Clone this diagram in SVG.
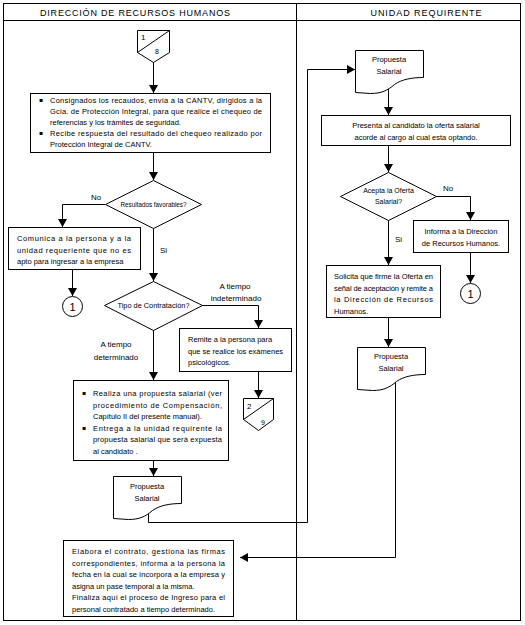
<svg xmlns="http://www.w3.org/2000/svg" xmlns:xlink="http://www.w3.org/1999/xlink" width="525" height="625" viewBox="0 0 525 625">
<style>
.frame{fill:none;stroke:#000;stroke-width:1}
.box{fill:#fff;stroke:#000;stroke-width:1}
.conn{fill:none;stroke:#000;stroke-width:1}
.t{font-family:"Liberation Sans",Arial,sans-serif;font-size:7.5px;fill:#000}
.c{text-anchor:middle}
.h{font-family:"Liberation Sans",Arial,sans-serif;font-size:9px;fill:#000}
.b{font-family:"DejaVu Sans","Liberation Sans",sans-serif;font-size:6px;fill:#000}
</style>
<defs>
<marker id="ah" markerUnits="userSpaceOnUse" markerWidth="9" markerHeight="9" refX="8" refY="4.5" orient="auto">
<path d="M0,0 L8,4.5 L0,9 z" fill="#000"/>
</marker>
<path id="docShape" d="M0,0 H68 V27 C56,27 46,29 39,34 C32,40 26,43 15,43 L0,42 Z"/>
</defs>
<rect width="525" height="625" fill="#fff"/>
<g id="frame">
<rect class="frame" x="3.5" y="3.5" width="517" height="617"/>
<line class="frame" x1="3.5" y1="20.5" x2="520.5" y2="20.5"/>
<line class="frame" x1="296.5" y1="3.5" x2="296.5" y2="620.5"/>
<text class="h c" x="135" y="16" textLength="190" lengthAdjust="spacing">DIRECCIÓN DE RECURSOS HUMANOS</text>
<text class="h c" x="426" y="16" textLength="111" lengthAdjust="spacing">UNIDAD REQUIRENTE</text>
</g>
<g id="connectors">
<path class="conn" d="M153.5,62 V93" marker-end="url(#ah)"/>
<path class="conn" d="M153.5,152 V180" marker-end="url(#ah)"/>
<path class="conn" d="M105,204.5 H62.5 V227" marker-end="url(#ah)"/>
<path class="conn" d="M72.5,269 V296" marker-end="url(#ah)"/>
<path class="conn" d="M153.5,228 V281" marker-end="url(#ah)"/>
<path class="conn" d="M202,305.5 H258.5 V328" marker-end="url(#ah)"/>
<path class="conn" d="M258.5,371 V398" marker-end="url(#ah)"/>
<path class="conn" d="M153.5,330 V380" marker-end="url(#ah)"/>
<path class="conn" d="M153.5,460 V476" marker-end="url(#ah)"/>
<path class="conn" d="M148.5,505 V522.5 H307.5 V69.5 H355" marker-end="url(#ah)"/>
<path class="conn" d="M388.5,80 V115" marker-end="url(#ah)"/>
<path class="conn" d="M388.5,145 V172" marker-end="url(#ah)"/>
<path class="conn" d="M436,196.5 H470.5 V220" marker-end="url(#ah)"/>
<path class="conn" d="M470.5,252 V283" marker-end="url(#ah)"/>
<path class="conn" d="M388.5,220 V265" marker-end="url(#ah)"/>
<path class="conn" d="M388.5,317 V347" marker-end="url(#ah)"/>
<path class="conn" d="M395.5,375 V557.5 H240" marker-end="url(#ah)"/>
</g>
<g id="labels">
<text class="t c" x="96" y="200" style="font-size:8px">No</text>
<text class="t" x="160" y="253" style="font-size:8px">Si</text>
<text class="t c" x="235" y="289" style="font-size:8px">A tiempo</text>
<text class="t c" x="236" y="301" style="font-size:8px">indeterminado</text>
<text class="t c" x="116" y="347" style="font-size:8px">A tiempo</text>
<text class="t c" x="116" y="360" style="font-size:8px">determinado</text>
<text class="t c" x="448" y="191" style="font-size:8px">No</text>
<text class="t" x="395" y="242" style="font-size:8px">Si</text>
</g>
<g id="offpage-1-8">
<path class="box" d="M137.5,30.5 H169.5 V52.5 L153.5,62.5 L137.5,52.5 Z"/>
<line class="conn" x1="137.5" y1="52.5" x2="169.5" y2="30.5"/>
<text class="t" x="141" y="40" style="font-size:8px">1</text>
<text class="t" x="155" y="54" style="font-size:7px">8</text>
</g>
<g id="box-consignados">
<rect class="box" x="30.5" y="93.5" width="240" height="59"/>
<text class="b" x="39" y="102">▪</text>
<text class="t" x="50" y="103" textLength="212" lengthAdjust="spacing">Consignados los recaudos, envía a la CANTV, dirigidos a la</text>
<text class="t" x="50" y="114" textLength="212" lengthAdjust="spacing">Gcia. de Protección Integral, para que realice el chequeo de</text>
<text class="t" x="50" y="125">referencias y los trámites de seguridad.</text>
<text class="b" x="39" y="135">▪</text>
<text class="t" x="50" y="136" textLength="212" lengthAdjust="spacing">Recibe respuesta del resultado del chequeo realizado por</text>
<text class="t" x="50" y="147">Protección Integral de CANTV.</text>
</g>
<g id="dec-resultados">
<path class="box" d="M153.5,180.5 L201.5,204.5 L153.5,228.5 L105.5,204.5 Z"/>
<text class="t c" x="153.5" y="207" style="font-size:7px" textLength="66" lengthAdjust="spacingAndGlyphs">Resultados favorables?</text>
</g>
<g id="box-comunica">
<rect class="box" x="8.5" y="227.5" width="132" height="42"/>
<text class="t" x="17" y="241" textLength="114" lengthAdjust="spacing">Comunica a la persona y a la</text>
<text class="t" x="17" y="252.5" textLength="114" lengthAdjust="spacing">unidad requeriente que no es</text>
<text class="t" x="17" y="264">apto para ingresar a la empresa</text>
</g>
<g id="conn-1-left">
<circle class="box" cx="72.5" cy="306.5" r="10"/>
<text class="t c" x="72.5" y="310.5" style="font-size:11px">1</text>
</g>
<g id="dec-tipo">
<path class="box" d="M153.5,281.5 L202.5,305.5 L153.5,330.5 L104.5,305.5 Z"/>
<text class="t c" x="153.5" y="308" textLength="72" lengthAdjust="spacingAndGlyphs">Tipo de Contratación?</text>
</g>
<g id="box-remite">
<rect class="box" x="179.5" y="328.5" width="112" height="43"/>
<text class="t" x="188" y="342">Remite a la persona para</text>
<text class="t" x="188" y="353.5">que se realice los exámenes</text>
<text class="t" x="188" y="365">psicológicos.</text>
</g>
<g id="offpage-2-9">
<path class="box" d="M243.5,398.5 H273.5 V419.5 L258.5,430.5 L243.5,419.5 Z"/>
<line class="conn" x1="243.5" y1="419.5" x2="273.5" y2="398.5"/>
<text class="t" x="247" y="409" style="font-size:8px">2</text>
<text class="t" x="261" y="425" style="font-size:7px">9</text>
</g>
<g id="box-realiza">
<rect class="box" x="73.5" y="380.5" width="155" height="80"/>
<text class="b" x="82" y="395">▪</text>
<text class="t" x="93" y="396" textLength="129" lengthAdjust="spacing">Realiza una propuesta salarial (ver</text>
<text class="t" x="93" y="407.5" textLength="129" lengthAdjust="spacing">procedimiento de Compensación,</text>
<text class="t" x="93" y="419">Capítulo II del presente manual).</text>
<text class="b" x="82" y="429.5">▪</text>
<text class="t" x="93" y="430.5" textLength="129" lengthAdjust="spacing">Entrega a la unidad requirente la</text>
<text class="t" x="93" y="442" textLength="129" lengthAdjust="spacing">propuesta salarial que será expuesta</text>
<text class="t" x="93" y="453.5">al candidato .</text>
</g>
<g id="doc-left">
<use xlink:href="#docShape" href="#docShape" class="box" x="113.5" y="476.5"/>
<text class="t c" x="147" y="489">Propuesta</text>
<text class="t c" x="147" y="501">Salarial</text>
</g>
<g id="box-elabora">
<rect class="box" x="63.5" y="540.5" width="170" height="76"/>
<text class="t" x="72" y="554" textLength="153" lengthAdjust="spacing">Elabora el contrato, gestiona las firmas</text>
<text class="t" x="72" y="565.5" textLength="153" lengthAdjust="spacing">correspondientes, informa a la persona la</text>
<text class="t" x="72" y="577" textLength="153" lengthAdjust="spacing">fecha en la cual se incorpora a la empresa y</text>
<text class="t" x="72" y="588.5">asigna un pase temporal a la misma.</text>
<text class="t" x="72" y="600" textLength="153" lengthAdjust="spacing">Finaliza aquí el proceso de Ingreso para el</text>
<text class="t" x="72" y="611.5">personal contratado a tiempo determinado.</text>
</g>
<g id="doc-right-1">
<use xlink:href="#docShape" href="#docShape" class="box" x="355.5" y="50.5"/>
<text class="t c" x="389" y="62">Propuesta</text>
<text class="t c" x="389" y="74">Salarial</text>
</g>
<g id="box-presenta">
<rect class="box" x="321.5" y="115.5" width="189" height="30"/>
<text class="t c" x="416" y="128">Presenta al candidato la oferta salarial</text>
<text class="t c" x="416" y="140">acorde al cargo al cual esta optando.</text>
</g>
<g id="dec-acepta">
<path class="box" d="M388.5,172.5 L436.5,196.5 L388.5,220.5 L340.5,196.5 Z"/>
<text class="t c" x="388.5" y="193" style="font-size:7px">Acepta la Oferta</text>
<text class="t c" x="388.5" y="203.5" style="font-size:7px">Salarial?</text>
</g>
<g id="box-informa">
<rect class="box" x="413.5" y="220.5" width="95" height="32"/>
<text class="t c" x="461" y="234">Informa a la Dirección</text>
<text class="t c" x="461" y="246">de Recursos Humanos.</text>
</g>
<g id="conn-1-right">
<circle class="box" cx="470.5" cy="293.5" r="10"/>
<text class="t c" x="470.5" y="297.5" style="font-size:11px">1</text>
</g>
<g id="box-solicita">
<rect class="box" x="326.5" y="265.5" width="114" height="52"/>
<text class="t" x="334" y="279" textLength="99" lengthAdjust="spacing">Solicita que firme la Oferta en</text>
<text class="t" x="334" y="290.5" textLength="99" lengthAdjust="spacing">señal de aceptación y remite a</text>
<text class="t" x="334" y="302" textLength="99" lengthAdjust="spacing">la Dirección de Recursos</text>
<text class="t" x="334" y="313.5">Humanos.</text>
</g>
<g id="doc-right-2">
<use xlink:href="#docShape" href="#docShape" class="box" x="357.5" y="347.5"/>
<text class="t c" x="391" y="359">Propuesta</text>
<text class="t c" x="391" y="371">Salarial</text>
</g>
</svg>
